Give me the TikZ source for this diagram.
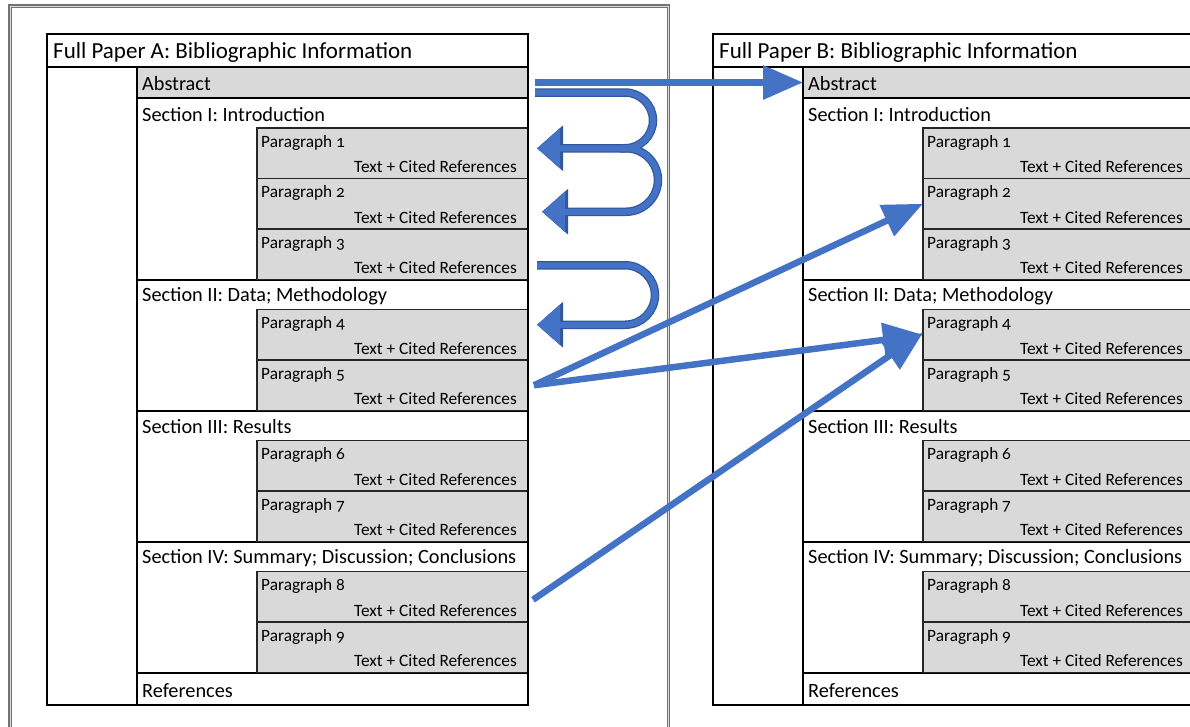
\documentclass[tikz,border=0pt]{standalone}
\usepackage{fontspec}
\setmainfont{Carlito}[Numbers=OldStyle]
\usetikzlibrary{arrows.meta}
\definecolor{arrowblue}{HTML}{4472C4}
\definecolor{arrowdark}{HTML}{2F5597}
\definecolor{parafill}{HTML}{D9D9D9}
\tikzset{
  cell/.style={draw=black, line width=2pt, inner sep=0pt, outer sep=0pt, anchor=north west, fill=white},
  graycell/.style={cell, fill=parafill},
  parabox/.style={draw=black!85, line width=1.3pt, fill=parafill, inner sep=0pt, outer sep=0pt,
    anchor=north west, minimum width=271pt, minimum height=50.5pt},
  titletext/.style={anchor=west, inner sep=0pt, font=\fontsize{23}{27}\selectfont},
  sectext/.style={anchor=west, inner sep=0pt, font=\fontsize{20.3}{24}\selectfont},
  paratext/.style={inner sep=0pt, font=\fontsize{17.3}{20}\selectfont},
  pageframe/.style={draw=black!55, double=black!15, double distance=1pt, line width=1.3pt},
  flow/.style={line width=6.5pt, arrowblue, -{Triangle[length=40pt,width=33pt]}},
  uback/.style={line width=8.5pt, arrowdark!90!arrowblue, -{Triangle[length=26pt,width=44pt]}},
  ufront/.style={line width=6pt, arrowblue, -{Triangle[length=23pt,width=39pt]}},
}
\newcommand{\parabody}[3]{% name, y, number
  \node[parabox] (#1) at (257,#2) {};
  \node[paratext, anchor=west] (#1n) at ([shift={(4,14.5)}]#1.north west) {Paragraph #3};
  \node[paratext, anchor=east] (#1t) at ([shift={(-11,39)}]#1.north west -| #1.east) {Text + Cited References};
}
\newcommand{\paperbox}[3]{% prefix, xshift, letter
  \begin{scope}[xshift=#2pt]
    \node[cell, line width=2.5pt, minimum width=481pt, minimum height=671pt] (#1paper) at (47,34) {};
    \node[cell, minimum width=481pt, minimum height=33pt] (#1title) at (47,34) {};
    \node[titletext] (#1titlet) at ([shift={(6,2)}]#1title.west) {Full Paper #3: Bibliographic Information};
    \node[graycell, minimum width=391pt, minimum height=31pt] (#1abs) at (137,67) {};
    \node[sectext] (#1abst) at ([shift={(5,1.5)}]#1abs.west) {Abstract};
    \node[cell, minimum width=391pt, minimum height=181.5pt] (#1s1) at (137,98) {};
    \node[sectext] (#1s1t) at ([shift={(5,16.5)}]#1s1.north west) {Section I: Introduction};
    \node[cell, minimum width=391pt, minimum height=131pt] (#1s2) at (137,279.5) {};
    \node[sectext] (#1s2t) at ([shift={(5,16.5)}]#1s2.north west) {Section II: Data; Methodology};
    \node[cell, minimum width=391pt, minimum height=131pt] (#1s3) at (137,410.5) {};
    \node[sectext] (#1s3t) at ([shift={(5,16.5)}]#1s3.north west) {Section III: Results};
    \node[cell, minimum width=391pt, minimum height=131pt] (#1s4) at (137,541.5) {};
    \node[sectext] (#1s4t) at ([shift={(5,16.5)}]#1s4.north west) {Section IV: Summary; Discussion; Conclusions};
    \node[cell, minimum width=391pt, minimum height=32.5pt] (#1ref) at (137,672.5) {};
    \node[sectext] (#1reft) at ([shift={(5,1.5)}]#1ref.west) {References};
    \parabody{#1p1}{128}{1}
    \parabody{#1p2}{178.5}{2}
    \parabody{#1p3}{229}{3}
    \parabody{#1p4}{309.5}{4}
    \parabody{#1p5}{360}{5}
    \parabody{#1p6}{440.5}{6}
    \parabody{#1p7}{491}{7}
    \parabody{#1p8}{571.5}{8}
    \parabody{#1p9}{622}{9}
    \draw[line width=2.5pt] (#1paper.north west) rectangle (#1paper.south east);
  \end{scope}
}
\begin{document}
\begin{tikzpicture}[x=1pt, y=-1pt]
  \useasboundingbox (0,0) rectangle (1190,726);
  \clip (0,0) rectangle (1190,726);
  \fill[white] (0,0) rectangle (1190,726);
  \draw[pageframe] (10,6) rectangle (668.5,760);
  \paperbox{A}{0}{A}
  \paperbox{B}{666}{B}
  % curved arrows: outline pass, then fill pass
  \foreach \st in {uback, ufront}{
    \draw[\st, rounded corners=28pt] ([shift={(7,10)}]Aabs.east) -- ++(118,0) |- ([shift={(9,-5)}]Ap1.east);
    \draw[\st, rounded corners=32pt] ([shift={(92,-5)}]Ap1.east) -- ++(38,0) |- ([shift={(14,8)}]Ap2.east);
    \draw[\st, rounded corners=30pt] ([shift={(9,11)}]Ap3.east) -- ++(118,0) |- ([shift={(9,-10)}]Ap4.east);
  }
  % straight arrows
  \draw[flow] ([xshift=7pt]Aabs.east) -- (Babs.west);
  \draw[flow] ([xshift=6pt]Ap5.east) -- (Bp2.west);
  \draw[flow] ([xshift=6pt]Ap5.east) -- (Bp4.west);
  \draw[flow] ([shift={(5,3)}]Ap8.east) -- ([yshift=2pt]Bp4.west);
\end{tikzpicture}
\end{document}
